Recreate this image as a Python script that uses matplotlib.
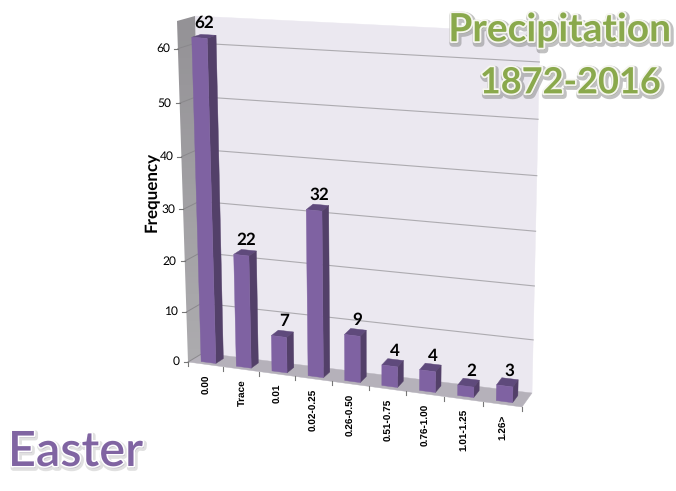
import numpy as np
import matplotlib
matplotlib.use("Agg")
import matplotlib.pyplot as plt
import matplotlib.patheffects as pe
from matplotlib.colors import LinearSegmentedColormap
from matplotlib.patches import Polygon

plt.rcParams["text.hinting"] = "none"
plt.rcParams["text.hinting_factor"] = 1

categories = ["0.00", "Trace", "0.01", "0.02-0.25", "0.26-0.50",
              "0.51-0.75", "0.76-1.00", "1.01-1.25", "1.26>"]
frequency = [62, 22, 7, 32, 9, 4, 4, 2, 3]
y_ticks = [0, 10, 20, 30, 40, 50, 60]
y_max = 65

# pixel corners of the 3D box: bottom-left, bottom-right, top-right, top-left
back_plane = [(203, 353), (532, 393), (540, 33), (195, 16)]
front_plane = [(188, 362), (522, 407), (531, 47), (177, 21)]


def fit_plane(corners):
    # homography from the unit square to the four pixel corners
    src = [(0, 0), (1, 0), (1, 1), (0, 1)]
    rows, rhs = [], []
    for (s, t), (x, y) in zip(src, corners):
        rows.append([s, t, 1, 0, 0, 0, -s * x, -t * x])
        rows.append([0, 0, 0, s, t, 1, -s * y, -t * y])
        rhs += [x, y]
    h = np.linalg.solve(np.array(rows, float), np.array(rhs, float))
    return np.append(h, 1).reshape(3, 3)


H_back = fit_plane(back_plane)
H_front = fit_plane(front_plane)


def proj(u, v, d):
    # u = 0..1 along the categories, v = value, d = 0 at back wall, 1 at front
    p = np.array([u, v / y_max, 1.0])
    b = H_back @ p
    f = H_front @ p
    return (1 - d) * b[:2] / b[2] + d * f[:2] / f[2]


fig = plt.figure(figsize=(6.76, 4.91), dpi=100)
ax = fig.add_axes([0, 0, 1, 1])

font = "Lato"


def face(points, color, z=2):
    ax.add_patch(Polygon(points, closed=True, facecolor=color, edgecolor=color,
                         linewidth=0.3, zorder=z))


# walls and floor
face([proj(0, 0, 0), proj(1, 0, 0), proj(1, y_max, 0), proj(0, y_max, 0)], "#ebe8f0", 1)
face([proj(0, 0, 1), proj(1, 0, 1), proj(1, 0, 0), proj(0, 0, 0)], "#b5b1ba", 1)

# left wall fades from darker grey at the top to lighter at the bottom
wall = Polygon([proj(0, 0, 1), proj(0, y_max, 1), proj(0, y_max, 0), proj(0, 0, 0)],
               closed=True, facecolor="none", edgecolor="none", transform=ax.transData)
ax.add_patch(wall)
shade = LinearSegmentedColormap.from_list("wall", ["#949296", "#adacaf"])
img = ax.imshow(np.linspace(0, 1, 64).reshape(-1, 1), cmap=shade, aspect="auto",
                extent=(170, 210, 365, 14), zorder=1)
img.set_clip_path(wall)

ax.set_xlim(0, 676)
ax.set_ylim(491, 0)
ax.axis("off")

# gridlines and value ticks
for t in y_ticks:
    a, b, c = proj(0, t, 1), proj(0, t, 0), proj(1, t, 0)
    if t > 0:
        ax.plot([b[0], c[0]], [b[1], c[1]], color="#adabb0", lw=0.8, zorder=1.5)
    ax.plot([a[0], b[0]], [a[1], b[1]], color="#8a888c", lw=0.7, zorder=1.5)
    ax.plot([a[0] - 4, a[0]], [a[1], a[1]], color="#777777", lw=0.8, zorder=1.5)
    ax.text(a[0] - 8, a[1], str(t), ha="right", va="center", fontsize=8.5,
            family=font, color="black")

# category ticks on the front edge of the floor
n = len(categories)
for i in range(n + 1):
    a = proj(i / n, 0, 1)
    ax.plot([a[0], a[0]], [a[1], a[1] + 4], color="#777777", lw=0.8, zorder=1.5)

bar_width = 0.42
d_front, d_rear = 0.8, 0.28
for i, (name, val) in enumerate(zip(categories, frequency)):
    u0 = (i + 0.5 - bar_width / 2) / n
    u1 = (i + 0.5 + bar_width / 2) / n
    # top, side, then front
    face([proj(u0, val, d_front), proj(u1, val, d_front),
          proj(u1, val, d_rear), proj(u0, val, d_rear)], "#5f4a7c", 3)
    face([proj(u1, 0, d_front), proj(u1, 0, d_rear),
          proj(u1, val, d_rear), proj(u1, val, d_front)], "#534069", 3)
    face([proj(u0, 0, d_front), proj(u1, 0, d_front),
          proj(u1, val, d_front), proj(u0, val, d_front)], "#7f62a2", 4)

    top = proj((i + 0.5) / n, val, d_front)
    ax.text(top[0] + 5, top[1] - 15, str(val), ha="center", va="center",
            fontsize=12.5, fontweight="bold", family=font, color="black", zorder=5)

    edge = proj((i + 0.5) / n, 0, 1)
    ax.text(edge[0] + 1, edge[1] + 10, name, rotation=90, ha="center", va="top",
            fontsize=7.4, fontweight="bold", family="Liberation Sans", color="black")

ax.text(152, 192, "Frequency", rotation=90, ha="center", va="center",
        fontsize=12, fontweight="bold", family=font, color="black")

# word-art style titles
glow = [pe.Stroke(linewidth=5, foreground="#777777", alpha=0.45, offset=(1, -1.5)),
        pe.Stroke(linewidth=2.6, foreground="#f6f6f0"),
        pe.Normal()]
soft = [pe.Stroke(linewidth=4, foreground="#999999", alpha=0.3, offset=(1, -1.5)),
        pe.Stroke(linewidth=2.2, foreground="white"),
        pe.Normal()]
ax.text(560, 30, "Precipitation", ha="center", va="center", fontsize=28,
        fontweight="bold", family=font, color="#8aa94c", path_effects=glow, zorder=6)
ax.text(570, 83, "1872-2016", ha="center", va="center", fontsize=26,
        fontweight="bold", family=font, color="#8aa94c", path_effects=glow, zorder=6)
ax.text(76, 452, "Easter", ha="center", va="center", fontsize=35,
        family=font, fontweight="semibold", color="#8064a2", path_effects=soft, zorder=6)

fig.savefig("out.png", dpi=100)
